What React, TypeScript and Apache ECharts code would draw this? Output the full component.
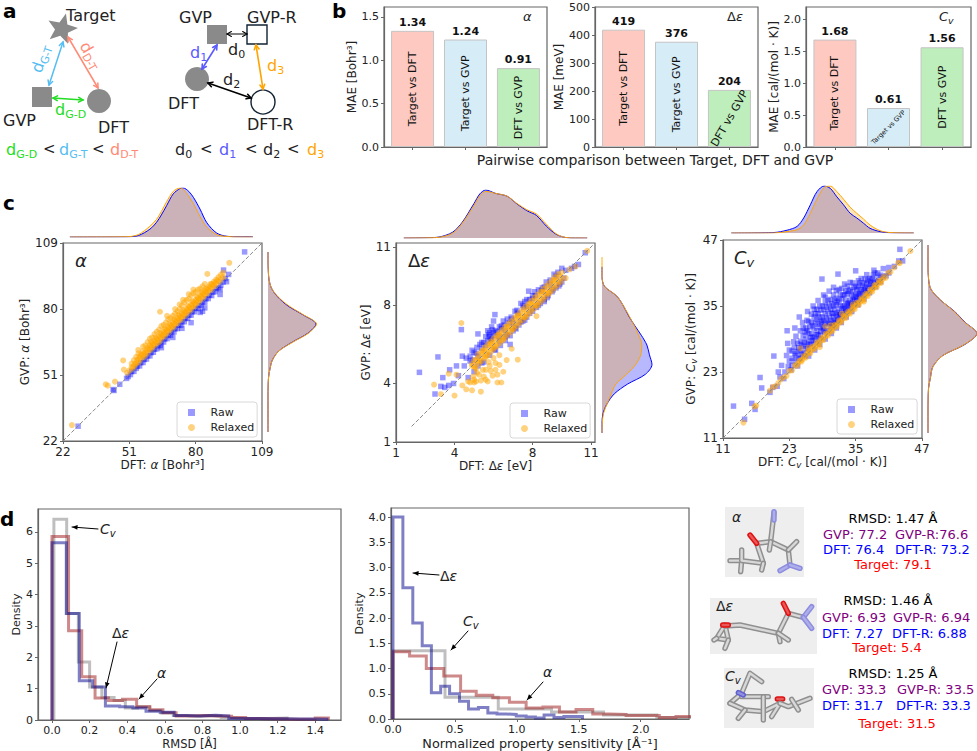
import React, { useEffect, useRef } from "react";
import * as echarts from "echarts";

const F = "DejaVu Sans";
const EDGE = "#666";
const TXT = "#222";
const BLUE = "#0000ff";
const ORANGE = "#ffa500";

// ---------- panel b ----------
const pairCategories = ["Target vs DFT", "Target vs GVP", "DFT vs GVP"];
const maeAlpha = [1.34, 1.24, 0.91];
const maeGap = [419, 376, 204];
const maeCv = [1.68, 0.61, 1.56];
const barColors = ["#fdc9c0", "#d6ecf7", "#bdeebb"];

// ---------- panel c, alpha ----------
const alphaTicks = [22, 51, 80, 109];
const alphaRaw = [[28.6,28.5],[43.9,44.6],[44.3,44.2],[46.8,46.9],[49.8,49.5],[50.5,50.3],[51.5,51.2],[52,52.5],[53,52.6],[54,53.9],[54.5,54.8],[55.5,55],[56,56.4],[57,56.5],[57.5,57.8],[58.5,58],[59,59.4],[60,59.4],[60.5,60.8],[61.5,61],[62,62.3],[63,62.5],[63.5,63.8],[64.5,64],[65,65.3],[66,65.5],[66.5,66.8],[67.5,67],[68,68.3],[69,68.5],[69.5,69.8],[70.5,69.9],[71,71.3],[72,71.4],[72.5,72.8],[73.5,72.9],[74,74.3],[75,74.4],[75.5,75.8],[76.5,75.9],[77,77.3],[78,77.3],[78.5,78.8],[79.5,78.8],[80,80.3],[81,80.2],[81.5,81.6],[82.5,81.5],[83,83],[84,83],[84.5,84.5],[85.5,84.6],[86,86],[87,85.9],[87.5,87.4],[88.5,87.6],[89,89],[90,89.3],[90.7,86.4],[90.7,88.6],[83,79],[82,78.5],[78,74],[84,80.5],[91,90.5],[92,91.8],[93,93.4],[94.4,95.2],[92.2,97.1],[93.5,92],[101.4,105.1],[70,67.5],[74,71.5],[65,63]];
const alphaRelaxed = [[25.9,29],[40.7,46.9],[41.6,46.3],[44.7,48.1],[48.3,57.4],[48.6,53.4],[50,52],[51,53],[52,54.5],[52,56],[53,55],[53,57.5],[54,56],[54,59],[54.9,62],[55,56.5],[55,58],[55,60.5],[56,58],[56,60],[57,59],[57,61.5],[57,63.5],[58,59.5],[58,61],[58,64],[59,61],[59,63],[59,65.5],[60,62],[60,64],[60,67],[61,63],[61,65],[61,67.5],[62,64],[62,66],[62,69],[63,65],[63,67],[63,70],[64,65.5],[64,68],[64,71],[64.4,78.8],[65,67],[65,69],[65,72.5],[66,68],[66,70],[66,73],[67,69],[67,71],[67,74],[67.5,77],[68,70],[68,72],[68,75.5],[69,71],[69,73],[69,76],[70,72],[70,74],[70,77],[71,73],[71,75],[71,78],[72,74],[72,76],[72,79],[73,75],[73,77],[73,80],[74,76],[74,78],[74,81.5],[75,77],[75,79],[75,83],[76,78],[76,80],[76,84],[77,79],[77,81],[77,84.5],[78,80],[78,82],[78,86],[79,81],[79,83],[79,87],[80,82],[80,84],[80,87.5],[81,83],[81,85],[81,88.5],[82,84],[82,86],[82,89],[83,85],[83,87],[83,90],[84,86],[84,88],[84,91],[85,87],[85,89],[85.1,95.4],[86,88],[86,90],[87,89],[87,91],[88,90],[88,92],[89,91],[89,93],[90,92],[90,94],[91,93],[91,95],[92,94],[92,96],[94.7,100.3],
  [52.5,54],[53.5,56],[54.5,57.5],[55.5,59],[56.5,60],[57.5,60.5],[58.5,62],[59.5,62.5],[60.5,63.5],[61.5,64.5],[62.5,65.5],[63.5,66.5],[64.5,67.5],[65.5,68.5],[66.5,69.5],[67.5,70.5],[68.5,71.5],[69.5,72.5],[70.5,73.5],[71.5,74.5],[72.5,75.5],[73.5,76.5],[74.5,77.5],[75.5,78.5],[76.5,79.5],[77.5,80.5],[78.5,81.5],[79.5,82.5],[80.5,83.5],[81.5,84.5],[82.5,85.5],[83.5,86.5],[84.5,87.5],[85.5,88.5],[86.5,89.5],[87.5,90.5],[88.5,91.5],[89.5,92.5],[60.5,65.5],[62.5,67.5],[64.5,69.5],[66.5,71.5],[68.5,73.5],[70.5,75.5],[72.5,77.5],[74.5,79.5],[76.5,81.5],[78.5,83.5],[80.5,85.5],[82.5,87.5],[84.5,89],[86.5,91],[71,80],[73,82],[74.5,84],[77,86.5],[79,88.5]];
const alphaKdeX = [25,50,55,60,62.9,65,67.3,70.2,73.2,74.6,77,79,81.9,84.9,89.2,93.6,99.5,105];
const alphaKdeRaw = [0,.004,.03,.16,.3,.45,.64,.88,.99,1,.93,.81,.57,.29,.08,.015,.005,.005];
const alphaKdeRelaxed = [0,.006,.05,.22,.36,.52,.72,.93,1,.97,.83,.68,.42,.2,.05,.01,0,0];
const alphaSideY = ["26","30","34","38","42","46","50","54","58","62","66","70","74","78","82","86","90","94","98","102","106"];
const alphaSideRaw = [0,0,0,0,0,.002,.01,.04,.09,.22,.5,.82,.98,.72,.41,.2,.07,.02,.005,0,0];
const alphaSideRelaxed = [0,0,0,0,0,.002,.01,.04,.09,.22,.51,.83,.99,.73,.43,.21,.07,.02,.005,0,0];

// ---------- panel c, gap ----------
const gapTicks = [1, 4, 8, 11];
const gapRaw = [[2.2,4.57],[3.15,5.36],[3,3.46],[3.3,3.85],[3.4,4.3],[3.5,3.8],[3.75,4.7],[3.7,3.9],[3.95,4],[4.1,4.9],[4.35,6.76],[4.2,4.4],[4.4,5.4],[4.6,5.3],[4.7,4.3],[4.8,5.4],[4.9,5.7],[5,5.6],[5,4.6],[5.2,6.54],[5.15,5.85],[5.3,6],[5.4,6.1],[5.5,5.1],[5.5,6.1],[5.6,6.4],[5.7,6.7],[5.7,6.2],[5.8,6.6],[5.8,6.4],[5.9,6.9],[5.9,6.3],[6,7.2],[6,6.6],[6.07,7.53],[6.1,5.7],[6.1,6.7],[6.3,6.9],[6.4,6.95],[6.5,7.2],[6.6,6.2],[6.7,7.3],[6.85,6],[6.9,7.4],[7,6.7],[7.1,7.7],[7.2,7.75],[7.3,7],[7.4,8.1],[7.5,8],[7.5,7.2],[7.6,8.2],[7.7,8.3],[7.7,7.4],[7.8,8.73],[7.85,8.3],[8,8.5],[8,7.7],[8.1,8.7],[8.2,7.9],[8.3,8.8],[8.4,8.1],[8.5,8.9],[8.6,8.3],[8.7,9.2],[8.8,8.5],[8.9,9.3],[9,8.7],[9.1,9.6],[9.2,8.9],[9.3,9.7],[9.4,9.1],[9.5,9.9],[9.6,9.4],[9.7,9.8],[10,9.9],[10.15,10],[10.35,10.1],[10.7,10.7],[6.3,6.4],[6.6,6.7],[7,7.1],[4.9,5.2],[5.2,5.4],
  [4.5,4.9],[4.8,5.15],[5.1,5.55],[5.4,5.8],[5.6,5.95],[5.75,6.5],[5.85,6.25],[5.95,6.75],[6.05,6.45],[6.2,6.65],[6.3,6.2],[6.4,6.8],[6.55,7],[6.7,6.5],[6.8,7.1],[6.95,7.3],[7.1,6.85],[7.25,7.6],[7.4,7.15],[7.55,7.9],[7.7,7.95],[7.85,7.6],[8,8.35],[8.15,8.5],[8.3,8],[8.45,8.75],[8.6,8.95],[8.75,8.4],[8.9,9.05],[9.05,8.8],[9.2,9.5],[9.35,9],[9.5,9.2],[5.2,4.9],[5.4,5.05],[5.8,5.45],[6.05,5.75],[6.35,5.95],[6.6,6.4],[6.85,6.45],[7.15,6.8],[7.6,7.25],[8,7.85],[8.6,8.2]];
const gapRelaxed = [[2.95,3.94],[3.3,3.45],[3.7,4.5],[4,3.38],[4.1,4.45],[4.35,7.1],[4.4,3.9],[4.6,3.7],[4.7,4.1],[4.8,4.05],[4.9,3.65],[4.9,4.9],[5,4.05],[5,5.2],[5.1,4.75],[5.1,4.1],[5.15,4.55],[5.2,5.1],[5.2,5.5],[5.35,3.58],[5.35,4.15],[5.4,5.15],[5.4,5.65],[5.5,4.35],[5.55,5.3],[5.55,5.85],[5.6,4.7],[5.7,4.1],[5.7,5.45],[5.7,6],[5.8,4.9],[5.85,5.6],[5.85,6.15],[5.95,4.4],[6,5.3],[6,5.75],[6,6.3],[6.1,4.7],[6.15,5.9],[6.15,6.45],[6.2,4.05],[6.3,4.95],[6.3,5.45],[6.3,6.05],[6.3,6.6],[6.45,6.2],[6.45,6.75],[6.4,4.05],[6.5,4.6],[6.6,6.35],[6.6,6.9],[6.67,5.2],[6.75,6.5],[6.75,7.05],[6.9,6.65],[6.9,7.2],[6.93,5.78],[7.05,6.8],[7.05,7.35],[7.2,6.95],[7.2,7.5],[7.24,5.22],[7.35,7.1],[7.35,7.65],[7.5,7.25],[7.5,7.8],[7.65,7.4],[7.65,7.95],[7.8,7.55],[7.8,8.1],[7.95,7.7],[7.95,8.25],[8.1,7.85],[8.1,8.4],[8.2,7.45],[8.25,8],[8.25,8.55],[8.4,8.15],[8.4,8.7],[8.55,8.3],[8.55,8.85],[8.7,8.45],[8.7,9],[8.85,8.6],[8.85,9.15],[9,8.75],[9,9.3],[9.15,8.9],[9.15,9.45],[9.3,9.05],[9.3,9.6],[9.45,9.2],[9.5,9.7],[9.7,9.4],[9.9,9.85],[10.2,10],[10.8,10.8],
  [4.9,5],[5,4.9],[5.1,5.2],[5.2,5.3],[5.3,5.2],[5.4,5.5],[5.5,5.4],[5.6,5.7],[5.7,5.6],[5.8,5.9],[5.9,5.8],[6,6.1],[6.1,6],[6.2,6.3],[6.3,6.2],[6.4,6.5],[6.5,6.4],[6.6,6.7],[6.7,6.6],[6.8,6.9],[6.9,6.8],[7,7.1],[7.1,7],[7.2,7.3],[7.3,7.2],[7.4,7.5],[7.5,7.4],[7.6,7.7],[7.7,7.6],[7.8,7.9],[7.9,7.8],[8,8.1],[8.1,8],[8.2,8.3],[8.3,8.2],[8.4,8.5],[8.5,8.4],[8.6,8.7],[8.7,8.6],[8.8,8.9],[8.9,8.8],[9,9.1],[9.1,9],[9.2,9.3],[9.3,9.2],[9.4,9.5],[9.5,9.4],[5.05,4.8],[5.25,5],[5.45,5.7],[5.65,5.4],[5.85,6.05],[6.05,5.85],[6.25,6.5],[6.5,6.25],[6.7,6.9],[7,6.8],[7.25,7.45],[7.6,7.4],[7.9,8.1],[8.2,8],[8.5,8.7],[8.8,8.65],[9.1,9.3],[5,4.2],[5.25,4.45],[5.6,4.2],[5.85,4.65],[6.2,4.45],[4.95,4.35],[5.45,4.7],[5.75,5.1],[6.1,5.05]];
const gapKdeX = [1.4,2.5,3.2,3.9,4.4,5,5.3,5.6,6.1,6.7,7.2,7.7,8.2,8.7,9.2,9.7,10.2,10.8];
const gapKdeRaw = [0,.005,.02,.12,.33,.72,.92,1,.93,.87,.71,.57,.47,.25,.08,.01,0,0];
const gapKdeRelaxed = [0,.003,.015,.1,.31,.68,.88,.97,.93,.87,.72,.59,.5,.29,.09,.01,0,0];
const gapSideY = ["1.5","2","2.5","3","3.5","4","4.5","5","5.5","6","6.5","7","7.5","8","8.5","9","9.5","10","10.5"];
const gapSideRaw = [0,0,.02,.1,.24,.5,.85,.98,.93,.88,.77,.64,.52,.42,.29,.05,0,0,null];
const gapSideRelaxed = [0,.005,.03,.1,.18,.27,.48,.66,.76,.78,.72,.63,.53,.42,.29,.05,0,0,0];

// ---------- panel c, Cv ----------
const cvTicks = [11, 23, 35, 47];
const cvRaw = [[12.9,16.8],[14.9,14.4],[16.2,17.3],[16.8,16.2],[17.7,22],[18,20.1],[19.5,19.3],[20,20.2],[20.2,25.9],[20.8,20.4],[21,23],[21.3,22.1],[21.6,24.2],[22,21.8],[22.2,23],[22.6,30.5],[22.7,28.2],[22.5,26],[23,25],[23,27],[23.3,23.4],[23.5,24.2],[23.8,28.5],[24,25],[24,26.4],[24,31],[24.2,29.5],[24.5,24.1],[24.8,33],[25,25.5],[25,27],[25,28.6],[25,30.5],[25.4,32],[25.8,26],[26,27.2],[26,29],[26,31],[26.3,34],[26.5,25.9],[26.8,28],[27,30],[27,32],[27,33.5],[27.3,35],[27.6,27],[27.8,28.8],[28,30.5],[28,32.6],[28,34.4],[28.2,36],[28.5,28],[28.6,29.6],[28.9,39.9],[29,31],[29,33],[29,35],[29.2,37],[29.5,29],[29.8,30.5],[30,32],[30,34],[30,36],[30.2,37.7],[30.6,30],[30.8,31.5],[31,38.4],[31,33],[31,35],[31,37],[31.5,31],[31.7,32.5],[31.8,40.8],[32,34],[32,36],[32,38],[32.4,32],[32.6,33.5],[33,35],[33,37],[33,39],[33.3,33],[33.6,34.4],[34,36],[34,38],[34,39.3],[34.3,34],[34.7,35.4],[35,41.4],[35,37],[35,38.6],[35.4,35.2],[35.7,36.4],[36,38],[36,40],[36.5,36.3],[36.8,37.4],[37,39],[37,40.7],[37.5,37.4],[38,38.4],[38,40],[38.3,41.5],[38.6,38.5],[39,39.4],[39,41],[39.5,39.4],[40,40.3],[40,41.8],[40.5,40.5],[41,41],[41,42],[42,42.2],[42.8,43.2],[43,45.3],[43.5,43.2],[29.5,30.2],[30.4,31.2],[31.4,32],[32.2,33],[33.2,34],[34.2,35],[35.2,36],[28.4,29],[27.4,28.2],[26.4,27.2],[25.5,26.4],[24.6,25.5],
  [24.5,26.7],[24.5,28.2],[25.5,27.7],[25.5,29.6],[25.5,31],[26.5,28.2],[26.5,30],[26.5,32.2],[27.5,29.4],[27.5,31],[27.5,33],[27.5,34.4],[28.5,31.2],[28.5,33],[28.5,35],[29.5,31.8],[29.5,33.6],[29.5,35.6],[29.5,36.6],[30.5,32.4],[30.5,34.4],[30.5,36.2],[31.5,33.4],[31.5,35.2],[31.5,36.4],[31.5,37.8],[32.5,34.5],[32.5,36.3],[32.5,38.2],[33.5,35.4],[33.5,37.2],[33.5,38.6],[34.5,36.2],[34.5,37.6],[34.5,39.2],[35.5,37.2],[35.5,38.6],[35.5,39.6],[36.5,38],[36.5,39.2],[37.5,38.6],[37.5,40],[38.5,39.6],[38.5,41],[39.5,40.6],[23.5,25.5],[23.5,26.8],[22.8,24],[26.2,28],[27,28.7],[27.9,29.8],[28.7,30.4],[29.3,31.3],[30.2,31.8],[31,32],[31.9,33],[32.9,34],[33.8,35],[34.8,36],[35.8,37],[36.7,37.8],[37.7,39],
  [25.2,28],[25.7,28.4],[25.9,30.2],[26.2,30.5],[26.7,31.2],[26.2,32.4],[27.2,29.2],[27.2,31.4],[27.7,32],[27.7,33.6],[28.2,29.8],[28.2,31.7],[28.2,33.6],[28.7,32.2],[28.7,34.2],[29.2,30.6],[29.2,32.4],[29.2,34.4],[29.7,32.8],[29.7,34.8],[30.2,33],[30.2,35],[30.7,31.2],[30.7,33.7],[30.7,35.4],[31.2,32.4],[31.2,34.4],[31.2,36],[31.7,33.8],[31.7,35.7],[32.2,33.4],[32.2,35],[32.2,37],[32.7,35],[32.7,37],[33.2,34.6],[33.2,36],[33.2,37.7],[33.7,35.6],[33.7,37.7],[34.2,35.3],[34.2,37],[34.7,36.6],[34.7,38.4],[35.2,36.7],[35.2,38],[35.7,37.6],[35.7,39.2],[36.2,37.2],[36.2,38.8],[36.7,38.4],[36.7,39.9],[37.2,38.2],[37.2,39.7],[37.7,39.5],[38.2,39.2],[38.2,40.6],[39.2,40.2],[24.2,26],[24.7,27.4],[23.9,27.5],[25.2,26.2],[26.8,29.3],[28.9,32],[30.9,33.6]];
const cvRelaxed = [[14.7,13.8],[16.7,16.7],[17,16.9],[19.5,19.6],[20,20.3],[20.5,20.4],[21,21],[21.5,21.7],[22,22],[22.5,22.3],[23,23.2],[23.5,23.3],[24,24.2],[24.4,24.1],[24.8,25],[25,27.3],[25.2,24.9],[25.6,25.9],[26,25.6],[26.4,26.8],[26.8,26.4],[27.2,27.6],[27.6,27.2],[28,28.4],[28.4,28],[28.8,29.2],[29.2,28.8],[29.5,31.3],[29.6,30],[30,29.6],[30.4,30.8],[30.8,30.4],[31.2,31.6],[31.6,31.2],[32,32.4],[32.4,32],[32.8,33.2],[33.2,32.8],[33.6,34],[34,33.6],[34.4,34.8],[34.8,34.4],[35.2,35.6],[35.6,35.2],[36,36.4],[36.4,36],[36.8,37.2],[37.2,36.8],[37.6,38],[38,37.6],[38.4,38.8],[38.8,38.4],[39.2,39.6],[39.6,39.2],[40,40.3],[40.4,40.1],[40.8,41],[41.3,41.2],[42,42],[42.7,42.9],[43,42.8],[44.9,45],
  [24.5,24.5],[25,25.1],[25.4,25.3],[25.8,25.8],[26.2,26.3],[26.6,26.6],[27,27],[27.4,27.4],[27.8,27.8],[28.2,28.2],[28.6,28.6],[29,29],[29.4,29.4],[29.8,29.8],[30.2,30.2],[30.6,30.6],[31,31],[31.4,31.4],[31.8,31.8],[32.2,32.2],[32.6,32.6],[33,33],[33.4,33.4],[33.8,33.8],[34.2,34.2],[34.6,34.6],[35,35],[35.4,35.4],[35.8,35.8],[36.2,36.2],[36.6,36.6],[37,37],[37.4,37.4],[37.8,37.8],[38.2,38.2],[38.6,38.6],[39,39],[39.4,39.4],[39.8,39.8],[28.5,27.5],[30.5,31.5],[32.5,33.6],[34.5,35.3],[36.5,35.8],[26.5,27.4]];
const cvKdeX = [12.5,20.2,22.6,24.4,25.6,26.8,28,29.3,30.4,31.6,32.8,34,35.2,36.4,37.6,39.4,41.2,45.5];
const cvKdeRaw = [0,.01,.06,.14,.32,.6,.88,1,.95,.77,.6,.42,.32,.21,.1,.03,.005,0];
const cvKdeRelaxed = [0,0,.03,.07,.17,.42,.72,.97,1,.88,.72,.55,.42,.3,.17,.05,.01,0];
const cvSideY = ["12","14","16","18","20","22","24","26","28","30","32","34","36","38","40","42","44","46"];
const cvSideRaw = [0,0,0,.002,.01,.05,.1,.3,.75,1,.76,.54,.26,.06,.01,0,0,0];
const cvSideRelaxed = [0,0,0,.002,.01,.05,.1,.3,.74,1,.75,.53,.26,.06,.01,0,0,0];

// ---------- panel d, RMSD ----------
const rmsdTicks = [0, .2, .4, .6, .8, 1, 1.2, 1.4];
const rmsdGrayEdges = [.01,.078,.14,.2,.265,.33,.39,.455,.52,.58,.645,.71,.77,.835,.9,.96,1.02,1.09,1.15,1.25];
const rmsdGray = [6.4,3.4,1.85,1.05,.72,.62,.38,.42,.3,.22,.14,.12,.14,.12,.07,.05,.04,.05,.06];
const rmsdRedEdges = [0,.088,.158,.229,.3,.375,.45,.52,.59,.66,.735,.81,.88,.955,1.03,1.1,1.18,1.25,1.32,1.4,1.47];
const rmsdRed = [5.85,2.85,1.38,.7,.62,.66,.42,.33,.23,.13,.14,.13,.12,.08,.05,.04,.03,.02,.03,.06];
const rmsdBlueEdges = [0,.076,.145,.216,.284,.36,.43,.5,.575,.65,.72,.79,.87,.94,1.02,1.09,1.17,1.25,1.32,1.4,1.47];
const rmsdBlue = [5.65,3.4,1.25,1.05,.45,.42,.38,.28,.25,.14,.13,.15,.13,.05,.05,.04,.04,.03,.03,.02];

// ---------- panel d, sensitivity ----------
const sensTicks = [0, .5, 1, 1.5, 2];
const densTicks = [0, .5, 1, 1.5, 2, 2.5, 3, 3.5, 4];
const sensGrayEdges = [0,.42,.85,1.28,1.7,2.13,2.56];
const sensGray = [1.35,.43,.2,.14,.08,.03];
const sensRedEdges = [0,.134,.269,.41,.546,.672,.806,.94,1.075,1.21,1.344,1.478,1.613,1.747,1.882,2.016,2.15,2.285,2.42];
const sensRed = [1.33,1.25,1,.85,.55,.47,.42,.33,.22,.24,.14,.19,.1,.09,.07,.07,.03,.05];
const sensBlueEdges = [0,.08,.16,.236,.31,.385,.457,.537,.61,.69,.766,.84,.915,.995,1.075,1.15,1.22,1.3,1.38,1.53];
const sensBlue = [4,2.6,1.9,1.45,.52,.65,.5,.35,.2,.23,.12,.1,.09,.06,.04,.02,.08,.03,.05];

const richMath = (size: number) => ({
  i: { fontStyle: "italic", fontSize: size, fontFamily: F, color: TXT },
  c: { fontStyle: "italic", fontSize: size, fontFamily: F, color: TXT, lineHeight: size + 4 },
  v: { fontStyle: "italic", fontSize: size * 0.72, fontFamily: F, color: TXT, verticalAlign: "bottom", lineHeight: size * 0.72 },
});

function buildOption() {
  const grid: any[] = [], xAxis: any[] = [], yAxis: any[] = [], series: any[] = [];
  const add = (r: number[], x: any, y: any, show = true) => {
    const i = grid.length;
    grid.push({ left: r[0], top: r[1], width: r[2] - r[0], height: r[3] - r[1], show, borderColor: EDGE, borderWidth: 1.2, backgroundColor: "transparent" });
    xAxis.push({ ...x, gridIndex: i });
    yAxis.push({ ...y, gridIndex: i });
    return i;
  };
  const val = (min: number, max: number, ticks: number[] | null, fmt: any, name: string, gap: number, size: number, nameSize: number) => ({
    type: "value", min, max, silent: true, splitLine: { show: false },
    axisLine: { show: true, onZero: false, lineStyle: { color: EDGE, width: 1.2 } },
    axisTick: ticks ? { show: true, length: 3, customValues: ticks, lineStyle: { color: EDGE } } : { show: false },
    axisLabel: ticks && fmt !== null ? { show: true, fontSize: size, fontFamily: F, color: TXT, customValues: ticks, formatter: fmt, margin: 5 } : { show: false },
    name, nameLocation: "middle", nameGap: gap,
    nameTextStyle: { fontSize: nameSize, fontFamily: F, color: TXT, rich: richMath(nameSize) },
  });
  const hidden = (min: number, max: number) => ({ type: "value", min, max, show: false });
  const f0 = (v: number) => String(v), f1 = (v: number) => v.toFixed(1);

  // --- bars ---
  const bars = (r: number[], vals: number[], max: number, ticks: number[], fmt: any, name: string, gap: number, valFmt: (v: number) => string, overrides: any[]) => {
    const i = add(r, val(-.54, 2.54, [0, 1, 2], null, "", 0, 11, 12), val(0, max, ticks, fmt, name, gap, 11, 12));
    const mk = (extra: (k: number) => any) => vals.map((v, k) => ({ value: [k, v], ...extra(k) }));
    series.push({
      type: "bar", xAxisIndex: i, yAxisIndex: i, barWidth: 43, barGap: "-100%", silent: true,
      data: mk(k => ({ itemStyle: { color: barColors[k], borderColor: "#c4c4c4", borderWidth: 1 } })),
      label: { show: true, position: "top", distance: 3, fontFamily: F, fontWeight: "bold", fontSize: 11, color: "#111", formatter: (p: any) => valFmt(p.value[1]) },
    });
    series.push({
      type: "bar", xAxisIndex: i, yAxisIndex: i, barWidth: 43, barGap: "-100%", silent: true,
      data: mk(k => ({ itemStyle: { color: "transparent" }, label: overrides[k] || {} })),
      label: { show: true, position: "inside", rotate: 90, fontFamily: F, fontSize: 11, color: "#111", formatter: (p: any) => pairCategories[p.dataIndex] },
    });
  };
  const s2 = (v: number) => v.toFixed(2);
  bars([384, 7, 547, 147], maeAlpha, 1.615, [0, .5, 1, 1.5], f1, "MAE [Bohr³]", 26, s2, []);
  bars([595, 7, 758, 147], maeGap, 500, [0, 100, 200, 300, 400, 500], f0, "MAE [meV]", 27, String, [{}, {}, { rotate: 60 }]);
  bars([806, 7, 971, 147], maeCv, 2.19, [0, .5, 1, 1.5, 2], f1, "MAE [cal/(mol · K)]", 22, s2, [{}, { rotate: 45, fontSize: 6.5 }, {}]);

  // --- scatter + marginals ---
  const scatter = (o: any) => {
    const i = add(o.rect, val(o.min, o.max, o.ticks, f0, o.xName, o.xGap, 12, 12), val(o.min, o.max, o.ticks, f0, o.yName, o.yGap, 12, 12));
    series.push({ type: "scatter", name: "Raw", xAxisIndex: i, yAxisIndex: i, symbol: "rect", symbolSize: 5.5, itemStyle: { color: BLUE, opacity: .4 }, data: o.raw, silent: true });
    series.push({ type: "scatter", name: "Relaxed", xAxisIndex: i, yAxisIndex: i, symbol: "circle", symbolSize: 6, itemStyle: { color: ORANGE, opacity: .5 }, data: o.relaxed, silent: true });
    series.push({ type: "line", xAxisIndex: i, yAxisIndex: i, symbol: "none", silent: true, lineStyle: { color: "#888", width: 1, type: [4, 2] }, data: o.diag, z: 3 });
    // top marginal
    const t = add(o.topRect, hidden(o.min, o.max), hidden(0, 1), false);
    ([[o.kdeRaw, BLUE], [o.kdeRelaxed, ORANGE]] as any[]).forEach(([ys, c]) => series.push({
      type: "line", xAxisIndex: t, yAxisIndex: t, symbol: "none", smooth: .3, silent: true,
      data: o.kdeX.map((x: number, k: number) => [x, ys[k]]),
      lineStyle: { color: c, width: 1 }, areaStyle: { color: c, opacity: .28 },
    }));
    // right marginal: a category y axis makes the area fill towards the left edge
    const s = add(o.sideRect, hidden(0, 1), { type: "category", data: o.sideY, boundaryGap: false, show: false }, false);
    ([[o.sideRaw, BLUE], [o.sideRelaxed, ORANGE]] as any[]).forEach(([xs, c]) => series.push({
      type: "line", xAxisIndex: s, yAxisIndex: s, symbol: "none", smooth: .3, silent: true, data: xs,
      lineStyle: { color: c, width: 1 }, areaStyle: { color: c, opacity: .28 },
    }));
  };
  scatter({ rect: [63, 243, 262, 441], min: 22, max: 109, ticks: alphaTicks, xName: "DFT: {i|α} [Bohr³]", xGap: 18, yName: "GVP: {i|α} [Bohr³]", yGap: 25, raw: alphaRaw, relaxed: alphaRelaxed, diag: [[22, 22], [109, 109]], topRect: [63, 188, 262, 237], kdeX: alphaKdeX, kdeRaw: alphaKdeRaw, kdeRelaxed: alphaKdeRelaxed, sideRect: [268, 252, 317, 432], sideY: alphaSideY, sideRaw: alphaSideRaw, sideRelaxed: alphaSideRelaxed });
  scatter({ rect: [396, 243, 595, 442], min: 1, max: 11.2, ticks: gapTicks, xName: "DFT: Δ{i|ε} [eV]", xGap: 18, yName: "GVP: Δ{i|ε} [eV]", yGap: 18, raw: gapRaw, relaxed: gapRelaxed, diag: [[1.8, 1.8], [11.2, 11.2]], topRect: [396, 190, 595, 238], kdeX: gapKdeX, kdeRaw: gapKdeRaw, kdeRelaxed: gapKdeRelaxed, sideRect: [602, 257, 653, 433], sideY: gapSideY, sideRaw: gapSideRaw, sideRelaxed: gapSideRelaxed });
  scatter({ rect: [723, 240, 922, 438], min: 11, max: 47, ticks: cvTicks, xName: "DFT: {c|C}{v|v} [cal/(mol · K)]", xGap: 15, yName: "GVP: {c|C}{v|v} [cal/(mol · K)]", yGap: 16, raw: cvRaw, relaxed: cvRelaxed, diag: [[11, 11], [47, 47]], topRect: [723, 186, 922, 233], kdeX: cvKdeX, kdeRaw: cvKdeRaw, kdeRelaxed: cvKdeRelaxed, sideRect: [928, 245, 977, 433], sideY: cvSideY, sideRaw: cvSideRaw, sideRelaxed: cvSideRelaxed });

  // --- histograms ---
  const hist = (i: number, edges: number[], h: number[], color: string) => {
    const data = h.map((v, k) => [edges[k], v]);
    data.unshift([edges[0], 0]);
    data.push([edges[h.length], 0]);
    series.push({ type: "line", step: "end", xAxisIndex: i, yAxisIndex: i, symbol: "none", silent: true, lineStyle: { color, width: 3, join: "miter" }, data });
  };
  const GR = "rgba(128,128,128,.5)", RD = "rgba(165,42,42,.55)", BL = "rgba(0,0,139,.5)";
  const d1 = add([38, 509, 341, 722], val(-.0745, 1.537, rmsdTicks, f1, "RMSD [Å]", 18, 11, 11.5), val(0, 6.73, [0, 1, 2, 3, 4, 5, 6], f0, "Density", 15, 11, 11));
  hist(d1, rmsdGrayEdges, rmsdGray, GR); hist(d1, rmsdRedEdges, rmsdRed, RD); hist(d1, rmsdBlueEdges, rmsdBlue, BL);
  const d2 = add([391, 508, 689, 720], val(-.016, 2.39, sensTicks, f1, "Normalized property sensitivity [Å⁻¹]", 18, 11, 12.8), val(0, 4.18, densTicks, f1, "Density", 25, 11, 11));
  hist(d2, sensGrayEdges, sensGray, GR); hist(d2, sensRedEdges, sensRed, RD); hist(d2, sensBlueEdges, sensBlue, BL);

  const legendAt = (left: number, top: number) => ({
    orient: "vertical", left, top, padding: [5, 3, 4, 11], itemWidth: 28, itemHeight: 7, itemGap: 4, symbolKeepAspect: true, selectedMode: false,
    backgroundColor: "rgba(255,255,255,.8)", borderColor: "#d8d8d8", borderWidth: 1, borderRadius: 3,
    textStyle: { fontFamily: F, fontSize: 11, color: TXT },
    data: [{ name: "Raw", icon: "path://M0 0H10V10H0Z" }, { name: "Relaxed", icon: "circle" }],
  });
  const legend = [legendAt(177, 402), legendAt(510, 403), legendAt(837, 399)];

  return { animation: false, textStyle: { fontFamily: F }, backgroundColor: "#fff", grid, xAxis, yAxis, series, legend, graphic: { elements: buildGraphics() } };
}

// ---------- drawing helpers ----------
function text(x: number, y: number, t: string, o: any = {}) {
  const { rotation, ...style } = o;
  return { type: "text", x, y, rotation: rotation || 0, silent: true, z: 20, style: { text: t, fontFamily: F, fontSize: 12, fill: TXT, align: "left", verticalAlign: "middle", ...style } };
}
const line = (x1: number, y1: number, x2: number, y2: number, stroke: string, w: number) => ({
  type: "line", silent: true, z: 20, shape: { x1, y1, x2, y2 }, style: { stroke, lineWidth: w, lineCap: "round" },
});
function openHead(x: number, y: number, ax: number, ay: number, c: string, w: number, s = 5) {
  const a = Math.atan2(ay, ax), d = .5;
  return { type: "polyline", silent: true, z: 20, shape: { points: [[x - s * Math.cos(a - d), y - s * Math.sin(a - d)], [x, y], [x - s * Math.cos(a + d), y - s * Math.sin(a + d)]] }, style: { stroke: c, lineWidth: w, fill: "none", lineCap: "round" } };
}
function biArrow(x1: number, y1: number, x2: number, y2: number, c: string, w = 1.5) {
  return [line(x1, y1, x2, y2, c, w), openHead(x2, y2, x2 - x1, y2 - y1, c, w), openHead(x1, y1, x1 - x2, y1 - y2, c, w)];
}
function pointer(x1: number, y1: number, x2: number, y2: number) {
  const a = Math.atan2(y2 - y1, x2 - x1), s = 6, d = .4;
  return [line(x1, y1, x2, y2, "#000", 1), { type: "polygon", silent: true, z: 20, shape: { points: [[x2, y2], [x2 - s * Math.cos(a - d), y2 - s * Math.sin(a - d)], [x2 - s * Math.cos(a + d), y2 - s * Math.sin(a + d)]] }, style: { fill: "#000" } }];
}
const dSub = (x: number, y: number, sub: string, color: string, rotation = 0, size = 16, subSize = 11) =>
  text(x, y, `{d|d}{s|${sub}}`, { rotation, rich: { d: { fontFamily: F, fontSize: size, fill: color, lineHeight: size + 5 }, s: { fontFamily: F, fontSize: subSize, fill: color, verticalAlign: "bottom", lineHeight: subSize } } });
const cv = (x: number, y: number, size = 14) =>
  text(x, y, "{c|C}{v|v}", { rich: { c: { fontFamily: F, fontStyle: "italic", fontSize: size, fill: TXT, lineHeight: size + 5 }, v: { fontFamily: F, fontStyle: "italic", fontSize: size * .72, fill: TXT, verticalAlign: "bottom", lineHeight: size * .72 } } });
const gapLabel = (x: number, y: number, size = 14) =>
  text(x, y, "Δ{e|ε}", { fontSize: size, rich: { e: { fontFamily: F, fontStyle: "italic", fontSize: size, fill: TXT } } });
const italic = (x: number, y: number, t: string, size = 14) => text(x, y, t, { fontSize: size, fontStyle: "italic" });

function sticks(ox: number, oy: number, chains: any[]) {
  const out: any[] = [];
  chains.forEach(([pts, color]) => {
    const points = pts.map((p: number[]) => [ox + p[0] / 3, oy + p[1] / 3]);
    out.push({ type: "polyline", silent: true, z: 19, shape: { points }, style: { stroke: color || "#8f8f8f", lineWidth: 5.4, lineCap: "round", lineJoin: "round", fill: "none" } });
    out.push({ type: "polyline", silent: true, z: 19, shape: { points }, style: { stroke: color ? "rgba(255,255,255,.3)" : "#d8d8d8", lineWidth: 2.4, lineCap: "round", lineJoin: "round", fill: "none" } });
  });
  return out;
}

function buildGraphics() {
  const GREEN = "#22dd22", SKY = "#55bdf2", SALMON = "#ff8a75", VIOLET = "#5a5aff", G = "#8a8a8a";
  const shape = (type: string, s: any, fill: string, stroke?: string) => ({ type, silent: true, z: 18, shape: s, style: { fill, stroke: stroke || "none", lineWidth: stroke ? 1.4 : 0 } });
  const starPts: number[][] = [];
  for (let k = 0; k < 10; k++) {
    const r = k % 2 ? 7 : 16, a = -Math.PI / 2 + .25 + k * Math.PI / 5;
    starPts.push([62 + r * Math.cos(a), 29 + r * Math.sin(a)]);
  }
  const bold = (x: number, y: number, t: string) => text(x, y, t, { fontSize: 20, fontWeight: "bold", fill: "#000" });
  const row = (yy: number, cells: any[]) => cells.map(([x, t, c]) => text(x, yy, t, { fontSize: 13, fill: c }));
  const P = "#800080", B = "#0000ff", R = "#ff0000";
  const center = (x: number, y: number, t: string, c = "#000") => text(x, y, t, { fontSize: 13, fill: c, align: "center" });
  return [
    bold(3, 11, "a"), bold(332, 11, "b"), bold(3, 203, "c"), bold(0, 519, "d"),
    // panel a, left triangle
    { type: "polygon", silent: true, z: 18, shape: { points: starPts }, style: { fill: G } },
    shape("rect", { x: 32, y: 87, width: 20, height: 20 }, G), shape("circle", { cx: 99, cy: 101, r: 12 }, G),
    text(66, 15, "Target", { fontSize: 16 }), text(3, 120, "GVP", { fontSize: 16 }), text(98, 127, "DFT", { fontSize: 16 }),
    ...biArrow(63, 42, 49, 85, SKY), ...biArrow(68, 37, 98, 88, SALMON), ...biArrow(53, 98, 83, 100, GREEN),
    dSub(36, 72, "G-T", SKY, 1.25), dSub(84, 43, "D-T", SALMON, -1.05), dSub(55, 109, "G-D", GREEN),
    dSub(6, 149, "G-D", GREEN), text(43, 149, "<", { fontSize: 15 }), dSub(59, 149, "G-T", SKY), text(92, 149, "<", { fontSize: 15 }), dSub(110, 149, "D-T", SALMON),
    // panel a, right square
    shape("rect", { x: 207, y: 25, width: 20, height: 19 }, G), shape("rect", { x: 247, y: 25, width: 20, height: 19 }, "#fff", "#123"),
    shape("circle", { cx: 197, cy: 79, r: 12 }, G), shape("circle", { cx: 263, cy: 102, r: 12 }, "#fff", "#123"),
    text(179, 17, "GVP", { fontSize: 16 }), text(247, 17, "GVP-R", { fontSize: 16 }), text(168, 103, "DFT", { fontSize: 16 }), text(247, 124, "DFT-R", { fontSize: 16 }),
    ...biArrow(227, 34, 247, 34, "#000", 1.1), ...biArrow(217, 45, 202, 69, VIOLET, 1.6), ...biArrow(256, 45, 263, 89, ORANGE, 1.6), ...biArrow(208, 83, 251, 98, "#000", 1.6),
    dSub(228, 49, "0", TXT), dSub(190, 52, "1", VIOLET), dSub(267, 65, "3", ORANGE), dSub(223, 79, "2", TXT),
    dSub(175, 149, "0", TXT), text(200, 149, "<", { fontSize: 15 }), dSub(219, 149, "1", VIOLET), text(245, 149, "<", { fontSize: 15 }), dSub(263, 149, "2", TXT), text(287, 149, "<", { fontSize: 15 }), dSub(307, 149, "3", ORANGE),
    // panel b
    text(655, 160, "Pairwise comparison between Target, DFT and GVP", { fontSize: 14, align: "center" }),
    italic(523, 16, "α", 13), gapLabel(727, 16, 13), cv(939, 16, 13),
    // panel c
    italic(75, 260, "α", 18), gapLabel(408, 260, 18), cv(734, 257, 18),
    // panel d annotations
    cv(100, 529, 14), ...pointer(98, 529, 72, 527), gapLabel(112, 633, 14), ...pointer(117, 642, 106, 688), italic(157, 673, "α", 14), ...pointer(157, 679, 139, 699),
    gapLabel(440, 576, 14), ...pointer(439, 575, 413, 573), cv(463, 621, 14), ...pointer(468, 631, 451, 650), italic(543, 672, "α", 14), ...pointer(543, 682, 527, 700),
    // molecule tiles
    shape("rect", { x: 725, y: 507, width: 79, height: 70 }, "#eeeeee"), shape("rect", { x: 710, y: 598, width: 107, height: 56 }, "#eeeeee"), shape("rect", { x: 724, y: 668, width: 90, height: 60 }, "#eeeeee"),
    ...sticks(700, 500, [
      [[[90, 182], [125, 182], [122, 215]]], [[[125, 150], [125, 182], [190, 190], [170, 130], [212, 125], [265, 150], [270, 195]]], [[[190, 190], [185, 210]]], [[[212, 125], [222, 38]]], [[[222, 60], [222, 35]], "#8c8ce0"], [[[170, 130], [150, 105]], "#e01010"], [[[212, 125], [208, 150]]], [[[265, 150], [290, 125]]], [[[270, 195], [240, 212]], "#8c8ce0"], [[[270, 195], [300, 205]], "#8c8ce0"],
      [[[50, 415], [75, 375], [85, 420], [50, 415]]], [[[75, 378], [120, 375], [235, 400], [265, 340], [310, 352]]], [[[68, 375], [85, 375]], "#e01010"], [[[265, 340], [250, 310]], "#e01010"], [[[310, 352], [335, 320]], "#8c8ce0"], [[[310, 352], [335, 385]], "#8c8ce0"], [[[235, 400], [240, 425]]], [[[235, 400], [265, 420]]], [[[50, 415], [42, 420]]], [[[85, 420], [75, 445]]],
      [[[90, 610], [125, 580], [150, 520], [185, 545]]], [[[125, 590], [190, 590], [205, 590]]], [[[90, 610], [135, 630], [190, 635], [240, 610], [215, 650]]], [[[115, 578], [130, 585]], "#6060d0"], [[[232, 597], [248, 597]], "#e01010"], [[[240, 610], [265, 620], [330, 595]]], [[[190, 590], [190, 660]]], [[[135, 630], [115, 655]]], [[[275, 598], [295, 630]]],
    ]),
    italic(732, 517, "α", 14), gapLabel(716, 606, 14), cv(725, 676, 14),
    // molecule read-outs
    center(893, 518, "RMSD: 1.47 Å"), ...row(534, [[823, "GVP: 77.2", P], [895, "GVP-R:76.6", P]]), ...row(549, [[823, "DFT: 76.4", B], [895, "DFT-R: 73.2", B]]), center(893, 564, "Target: 79.1", R),
    center(888, 600, "RMSD: 1.46 Å"), ...row(617, [[822, "GVP: 6.93", P], [893, "GVP-R: 6.94", P]]), ...row(633, [[822, "DFT: 7.27", B], [892, "DFT-R: 6.88", B]]), center(887, 647, "Target: 5.4", R),
    center(893, 673, "RMSD: 1.25 Å"), ...row(689, [[822, "GVP: 33.3", P], [897, "GVP-R: 33.5", P]]), ...row(705, [[822, "DFT: 31.7", B], [896, "DFT-R: 33.3", B]]), center(897, 723, "Target: 31.5", R),
  ];
}

export default function App() {
  const ref = useRef<HTMLDivElement>(null);
  useEffect(() => {
    const chart = echarts.init(ref.current!, null, { renderer: "svg" });
    chart.setOption(buildOption() as any);
    return () => chart.dispose();
  }, []);
  return <div ref={ref} style={{ position: "absolute", left: 0, top: 0, width: 977, height: 751, background: "#fff" }} />;
}
